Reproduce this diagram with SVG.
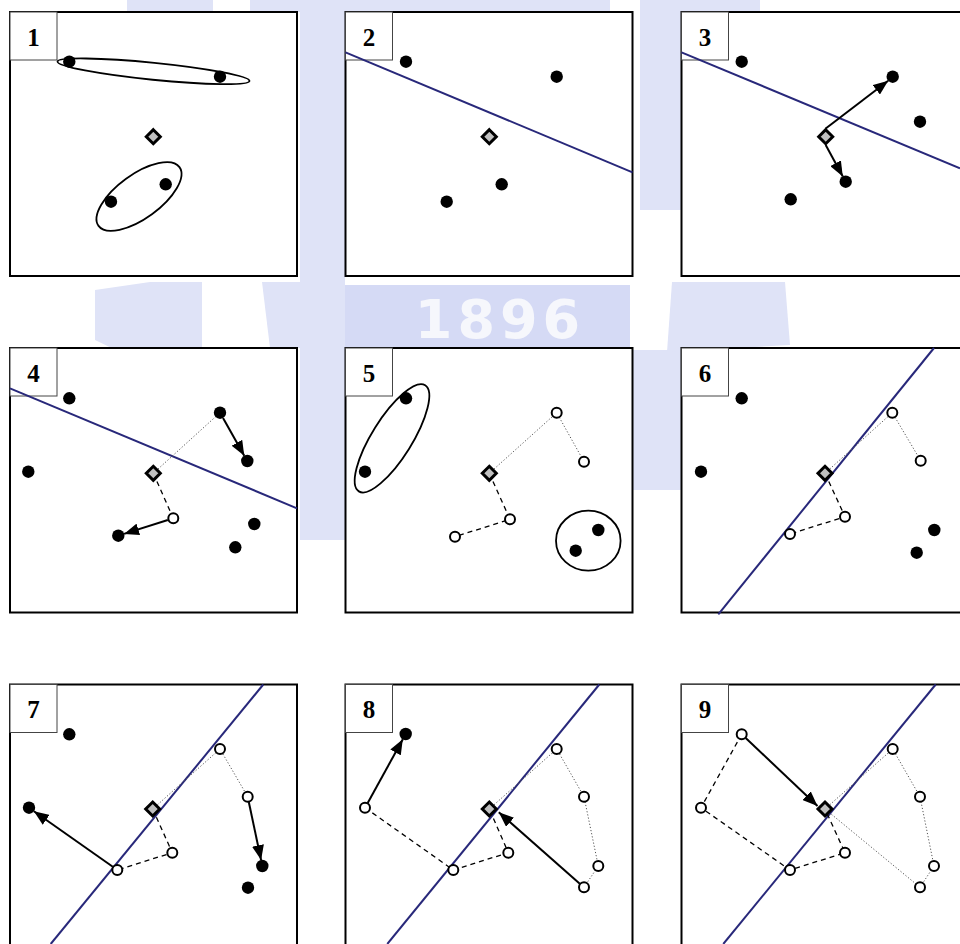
<svg xmlns="http://www.w3.org/2000/svg" width="960" height="944" viewBox="0 0 960 944">
<style>
.wm{fill:#dfe3f7}
.wm2{fill:#d5daf5}
.panel{fill:#fff;stroke:#000;stroke-width:2}
.lbl{fill:#fff;stroke:#444;stroke-width:1}
.num{font-family:"Liberation Serif","Times New Roman",serif;font-weight:bold;font-size:25px;text-anchor:middle;fill:#000}
.sep{stroke:#28287a;stroke-width:2;fill:none}
.dot{fill:#000}
.open{fill:#fff;stroke:#000;stroke-width:2}
.dia{fill:#c0c0c0;stroke:#000;stroke-width:3}
.ell{fill:none;stroke:#000;stroke-width:1.8}
.dotted{fill:none;stroke:#555;stroke-width:1;stroke-dasharray:1.2,2}
.dashed{fill:none;stroke:#000;stroke-width:1.3;stroke-dasharray:5,4}
.arrow{fill:none;stroke:#000;stroke-width:2;marker-end:url(#ah)}
</style>
<defs>
<marker id="ah" markerUnits="userSpaceOnUse" markerWidth="15" markerHeight="12" viewBox="0 0 15 12" refX="15" refY="6" orient="auto">
<path d="M0,0 L15,6 L0,12 z" fill="#000"/>
</marker>
<polygon id="dm" class="dia" points="0,-7 7,0 0,7 -7,0"/>
</defs>

<g id="watermark">
<rect class="wm" x="127" y="0" width="86" height="12"/>
<rect class="wm" x="250" y="0" width="360" height="12"/>
<rect class="wm" x="640" y="0" width="120" height="12"/>
<rect class="wm" x="300" y="0" width="45" height="540"/>
<rect class="wm" x="640" y="0" width="41" height="210"/>
<rect class="wm" x="633" y="350" width="48" height="140"/>
<polygon class="wm" points="95,290 150,282 202,282 202,348 120,352 95,340"/>
<polygon class="wm" points="262,282 345,282 345,348 270,348"/>
<rect class="wm2" x="345" y="285" width="285" height="63"/>
<polygon class="wm" points="672,282 785,282 790,345 667,352"/>
<text x="500" y="338" style="font-family:'DejaVu Sans',Verdana,sans-serif;font-weight:bold;font-size:54px;letter-spacing:5px;text-anchor:middle;fill:#f6f7fc">1896</text>
</g>

<g id="panel1">
<rect class="panel" x="10" y="12" width="287" height="264"/>
<rect class="lbl" x="10" y="12" width="47" height="48"/>
<text class="num" x="33.5" y="45.5">1</text>
<ellipse class="ell" cx="153.5" cy="71.3" rx="96.5" ry="8.5" transform="rotate(5.75 153.5 71.3)"/>
<ellipse class="ell" cx="139" cy="196.5" rx="50" ry="22" transform="rotate(-36 139 196.5)"/>
<circle class="dot" cx="69.3" cy="61.7" r="6.2"/>
<circle class="dot" cx="220" cy="76.7" r="6.2"/>
<circle class="dot" cx="165.7" cy="184.3" r="6.2"/>
<circle class="dot" cx="111" cy="201.7" r="6.2"/>
<use href="#dm" x="153.3" y="136.7"/>
</g>

<g id="panel2">
<rect class="panel" x="345.5" y="12" width="287" height="264"/>
<rect class="lbl" x="345.5" y="12" width="47" height="48"/>
<text class="num" x="369" y="45.5">2</text>
<line class="sep" x1="345.5" y1="52.3" x2="632.5" y2="172.3"/>
<circle class="dot" cx="406" cy="61.7" r="6.2"/>
<circle class="dot" cx="556.7" cy="76.7" r="6.2"/>
<circle class="dot" cx="501.7" cy="184.3" r="6.2"/>
<circle class="dot" cx="446.7" cy="201.7" r="6.2"/>
<use href="#dm" x="489.3" y="136.7"/>
</g>

<g id="panel3">
<rect class="panel" x="681.5" y="12" width="287" height="264"/>
<rect class="lbl" x="681.5" y="12" width="47" height="48"/>
<text class="num" x="705" y="45.5">3</text>
<line class="sep" x1="681.5" y1="52.3" x2="960" y2="168.3"/>
<line class="arrow" x1="825.7" y1="128.5" x2="888.2" y2="80.7"/>
<line class="arrow" x1="825.7" y1="145" x2="842.8" y2="176.4"/>
<circle class="dot" cx="741.7" cy="61.7" r="6.2"/>
<circle class="dot" cx="892.7" cy="76.7" r="6.2"/>
<circle class="dot" cx="920" cy="121.7" r="6.2"/>
<circle class="dot" cx="845.7" cy="181.7" r="6.2"/>
<circle class="dot" cx="790.7" cy="199.3" r="6.2"/>
<use href="#dm" x="825.7" y="136.7"/>
</g>

<g id="panel4">
<rect class="panel" x="10" y="348" width="287" height="264.5"/>
<rect class="lbl" x="10" y="348" width="47" height="48"/>
<text class="num" x="33.5" y="381.5">4</text>
<line class="sep" x1="10" y1="388.3" x2="297" y2="508.3"/>
<line class="dotted" x1="153.3" y1="473.3" x2="220" y2="412.7"/>
<line class="dashed" x1="153.3" y1="473.3" x2="173.3" y2="518.3"/>
<line class="arrow" x1="223" y1="417.9" x2="244.3" y2="455.8"/>
<line class="arrow" x1="167.8" y1="520" x2="124" y2="533.9"/>
<circle class="dot" cx="69.3" cy="398.3" r="6.2"/>
<circle class="dot" cx="220" cy="412.7" r="6.2"/>
<circle class="dot" cx="247.3" cy="461" r="6.2"/>
<circle class="dot" cx="28.3" cy="471.7" r="6.2"/>
<circle class="dot" cx="118.3" cy="535.7" r="6.2"/>
<circle class="dot" cx="254.3" cy="524" r="6.2"/>
<circle class="dot" cx="235.3" cy="547.3" r="6.2"/>
<circle class="open" cx="173.3" cy="518.3" r="5"/>
<use href="#dm" x="153.3" y="473.3"/>
</g>

<g id="panel5">
<rect class="panel" x="345.5" y="348" width="287" height="264.5"/>
<rect class="lbl" x="345.5" y="348" width="47" height="48"/>
<text class="num" x="369" y="381.5">5</text>
<polyline class="dotted" points="489.3,473.3 556.7,412.7 584,461.7"/>
<polyline class="dashed" points="489.3,473.3 510,519.3 455,536.7"/>
<ellipse class="ell" cx="392" cy="438.3" rx="62.6" ry="20" transform="rotate(-58 392 438.3)"/>
<ellipse class="ell" cx="588.3" cy="540.7" rx="32.3" ry="30"/>
<circle class="dot" cx="406" cy="398.3" r="6.2"/>
<circle class="dot" cx="365" cy="471.7" r="6.2"/>
<circle class="dot" cx="598.3" cy="530" r="6.2"/>
<circle class="dot" cx="575.7" cy="550.7" r="6.2"/>
<circle class="open" cx="556.7" cy="412.7" r="5"/>
<circle class="open" cx="584" cy="461.7" r="5"/>
<circle class="open" cx="510" cy="519.3" r="5"/>
<circle class="open" cx="455" cy="536.7" r="5"/>
<use href="#dm" x="489.3" y="473.3"/>
</g>

<g id="panel6">
<rect class="panel" x="681.5" y="348" width="287" height="264.5"/>
<rect class="lbl" x="681.5" y="348" width="47" height="48"/>
<text class="num" x="705" y="381.5">6</text>
<line class="sep" x1="934" y1="348" x2="718.3" y2="614.3"/>
<polyline class="dotted" points="825,473.3 892.3,412.7 920.7,460.7"/>
<polyline class="dashed" points="825,473.3 845,516.7 790,534"/>
<circle class="dot" cx="741.7" cy="398.3" r="6.2"/>
<circle class="dot" cx="701" cy="471.7" r="6.2"/>
<circle class="dot" cx="934.3" cy="530" r="6.2"/>
<circle class="dot" cx="916.7" cy="552.7" r="6.2"/>
<circle class="open" cx="892.3" cy="412.7" r="5"/>
<circle class="open" cx="920.7" cy="460.7" r="5"/>
<circle class="open" cx="845" cy="516.7" r="5"/>
<circle class="open" cx="790" cy="534" r="5"/>
<use href="#dm" x="825" y="473.3"/>
</g>

<g id="panel7">
<rect class="panel" x="10" y="684.5" width="287" height="264"/>
<rect class="lbl" x="10" y="684.5" width="47" height="48"/>
<text class="num" x="33.5" y="718">7</text>
<line class="sep" x1="263.3" y1="684.5" x2="50.7" y2="944"/>
<polyline class="dotted" points="152.7,809 220,749 247.7,796.7"/>
<polyline class="dashed" points="152.7,809 172.3,852.7 117.3,870"/>
<line class="arrow" x1="112.8" y1="866.8" x2="33.9" y2="811.2"/>
<line class="arrow" x1="248.8" y1="802" x2="261.1" y2="860.1"/>
<circle class="dot" cx="69.3" cy="734.3" r="6.2"/>
<circle class="dot" cx="29" cy="807.7" r="6.2"/>
<circle class="dot" cx="262.3" cy="866" r="6.2"/>
<circle class="dot" cx="248" cy="887.7" r="6.2"/>
<circle class="open" cx="220" cy="749" r="5"/>
<circle class="open" cx="247.7" cy="796.7" r="5"/>
<circle class="open" cx="172.3" cy="852.7" r="5"/>
<circle class="open" cx="117.3" cy="870" r="5"/>
<use href="#dm" x="152.7" y="809"/>
</g>

<g id="panel8">
<rect class="panel" x="345.5" y="684.5" width="287" height="264"/>
<rect class="lbl" x="345.5" y="684.5" width="47" height="48"/>
<text class="num" x="369" y="718">8</text>
<line class="sep" x1="599.3" y1="684.5" x2="387.3" y2="944"/>
<polyline class="dotted" points="489.3,809 556.7,749 584,796.7 598.3,866 584,887.3"/>
<polyline class="dashed" points="365,807.7 453.3,870 508.3,852.7 489.3,809"/>
<line class="arrow" x1="367.7" y1="802.9" x2="402.8" y2="739.3"/>
<line class="arrow" x1="579.8" y1="883.8" x2="498.8" y2="812.3"/>
<circle class="dot" cx="405.7" cy="734" r="6.2"/>
<circle class="open" cx="365" cy="807.7" r="5"/>
<circle class="open" cx="556.7" cy="749" r="5"/>
<circle class="open" cx="584" cy="796.7" r="5"/>
<circle class="open" cx="508.3" cy="852.7" r="5"/>
<circle class="open" cx="453.3" cy="870" r="5"/>
<circle class="open" cx="598.3" cy="866" r="5"/>
<circle class="open" cx="584" cy="887.3" r="5"/>
<use href="#dm" x="489.3" y="809"/>
</g>

<g id="panel9">
<rect class="panel" x="681.5" y="684.5" width="287" height="264"/>
<rect class="lbl" x="681.5" y="684.5" width="47" height="48"/>
<text class="num" x="705" y="718">9</text>
<line class="sep" x1="935.7" y1="684.5" x2="723.3" y2="944"/>
<polyline class="dashed" points="741.7,734.3 701,807.7 790,870 845,852.7 825,809"/>
<polyline class="dotted" points="825,809 892.7,749 920,796.7 934,866 920,887.3 825,809"/>
<line class="arrow" x1="745.7" y1="738" x2="817.5" y2="806"/>
<circle class="open" cx="741.7" cy="734.3" r="5"/>
<circle class="open" cx="701" cy="807.7" r="5"/>
<circle class="open" cx="892.7" cy="749" r="5"/>
<circle class="open" cx="920" cy="796.7" r="5"/>
<circle class="open" cx="845" cy="852.7" r="5"/>
<circle class="open" cx="790" cy="870" r="5"/>
<circle class="open" cx="934" cy="866" r="5"/>
<circle class="open" cx="920" cy="887.3" r="5"/>
<use href="#dm" x="825" y="809"/>
</g>
</svg>
